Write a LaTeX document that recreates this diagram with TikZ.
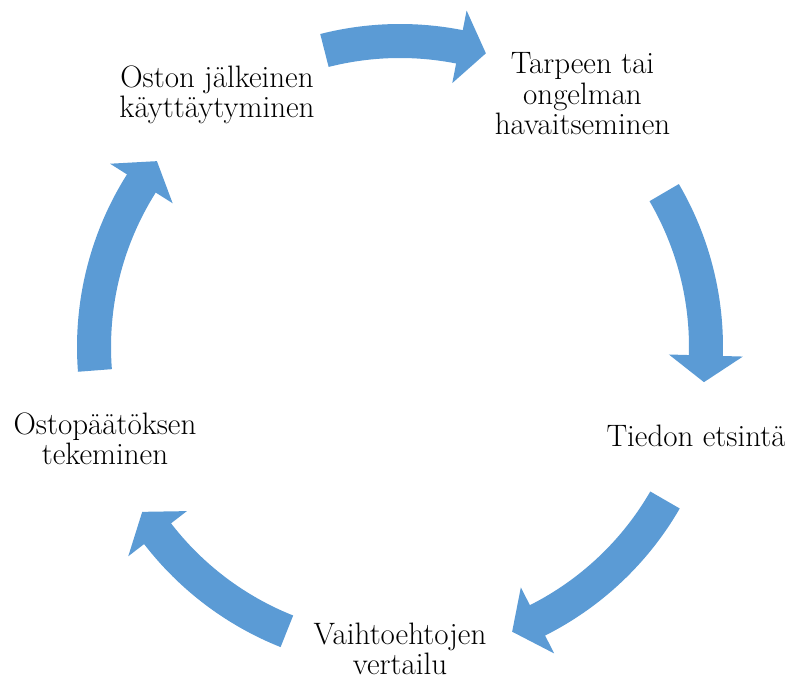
\documentclass[tikz,border=0pt]{standalone}
\usepackage{fontspec}
\definecolor{arrowblue}{HTML}{5B9BD5}
\tikzset{
  cyc/.style={fill=arrowblue},
  lbl/.style={font=\fontsize{31}{30.5}\selectfont, align=center, inner sep=0pt, anchor=base, text=black}
}
\newcommand\cycarrow[3]{% tail angle, head-base angle, tip angle
  \fill[cyc] (#1:323) arc[start angle=#1, end angle=#2, radius=323]
    -- (#2:343) -- (#3:306) -- (#2:269) -- (#2:289)
    arc[start angle=#2, end angle=#1, radius=289] -- cycle;}
\begin{document}
\begin{tikzpicture}[x=1pt,y=1pt]
  \useasboundingbox (0,0) rectangle (785,682);
  \coordinate (c) at (400,335);
  \begin{scope}[shift={(c)}]
    \cycarrow{104.3}{78.8}{73.7}
    \cycarrow{30.3}{-1.6}{-6.6}
    \cycarrow{-30.0}{-63.3}{-68.5}
    \cycarrow{248.3}{217.6}{212.6}
    \cycarrow{184.4}{147.7}{142.6}
  \end{scope}
  \node[lbl] (n1) at (582.5,547) {Tarpeen tai\\ongelman\\havaitseminen};
  \node[lbl] (n2) at (696,235) {Tiedon etsintä};
  \node[lbl] (n3) at (400,7) {Vaihtoehtojen\\vertailu};
  \node[lbl] (n4) at (105,217) {Ostopäätöksen\\tekeminen};
  \node[lbl] (n5) at (217,564) {Oston jälkeinen\\käyttäytyminen};
\end{tikzpicture}
\end{document}
